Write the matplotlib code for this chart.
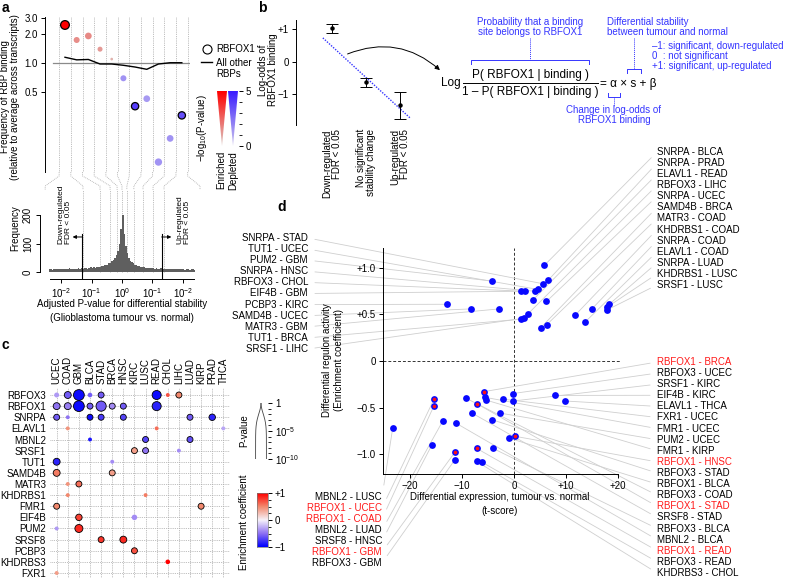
import numpy as np
import matplotlib
matplotlib.use("Agg")
import matplotlib.pyplot as plt
from matplotlib.colors import LinearSegmentedColormap, to_rgb
from matplotlib.lines import Line2D
from matplotlib.patches import Polygon, FancyArrowPatch
from matplotlib.transforms import IdentityTransform

plt.rcParams["font.family"] = ["Liberation Sans", "DejaVu Sans"]
plt.rcParams["font.size"] = 7
plt.rcParams["mathtext.fontset"] = "custom"
plt.rcParams["mathtext.rm"] = "Liberation Sans"
plt.rcParams["mathtext.it"] = "Liberation Sans:italic"
plt.rcParams["axes.linewidth"] = 0.7
for k in ("xtick", "ytick"):
    plt.rcParams[k + ".major.width"] = 0.7
    plt.rcParams[k + ".minor.width"] = 0.6
    plt.rcParams[k + ".major.size"] = 3
    plt.rcParams[k + ".minor.size"] = 2
    plt.rcParams[k + ".labelsize"] = 7
    plt.rcParams[k + ".major.pad"] = 2

# ---------------- data: panel a ----------------
a_freq = [2.52, 1.75, 1.93, 1.40, 1.10, 0.69, 0.35, 0.42, 0.09, 0.16, 0.28]
a_neglogp = [5.0, 1.5, 1.6, 1.2, 0.6, 1.5, 4.0, 1.3, 1.5, 1.5, 3.5]
a_sites = [757, 360, 449, 250, 73, 360, 533, 449, 533, 449, 533]
a_other = [1.15, 1.08, 1.09, 0.976, 0.976, 0.946, 0.907, 0.858, 0.976, 1.007, 1.007]

# histogram of signed -log10(adjusted P), bins of 0.05 from -2.4 to 2.4
hist_counts = [9, 11, 8, 10, 12, 9, 10, 11,
               10, 12, 9, 11, 10, 13, 11, 10, 12, 11,
               11, 13, 12, 14, 11, 13, 15, 12, 14, 16,
               14, 16, 15, 18, 17, 19, 21, 20, 23, 25,
               26, 30, 33, 37, 42, 50, 60, 75, 100, 150,
               200, 135, 90, 65, 50, 40, 34, 30, 26, 23,
               22, 20, 19, 17, 16, 15, 14, 15, 13, 14,
               13, 12, 14, 11, 12, 13, 11, 12, 10, 11,
               11, 10, 12, 9, 11, 10, 9, 11, 10, 9,
               10, 8, 9, 10, 8, 9, 10, 8]
a_bin_bounds = [-2.52, -1.28, -0.72, -0.39, -0.16, 0.0, 0.16, 0.39, 0.69, 1.02, 1.38, 2.56]
a_fdr = 1.3

# ---------------- data: panel b ----------------
b_logodds = [1.03, -0.63, -1.33]
b_err_lo = [0.90, -0.76, -1.75]
b_err_hi = [1.17, -0.50, -0.92]
b_alpha, b_beta = -0.96, -0.48
b_groups = ["Down-regulated\nFDR < 0.05", "No significant\nstability change",
            "Up-regulated\nFDR < 0.05"]

# ---------------- data: panel c ----------------
c_cancers = ["UCEC", "COAD", "GBM", "BLCA", "STAD", "BRCA", "HNSC", "KIRC", "LUSC",
             "READ", "CHOL", "LIHC", "LUAD", "KIRP", "PRAD", "THCA"]
c_rbps = ["RBFOX3", "RBFOX1", "SNRPA", "ELAVL1", "MBNL2", "SRSF1", "TUT1", "SAMD4B",
          "MATR3", "KHDRBS1", "FMR1", "EIF4B", "PUM2", "SRSF8", "PCBP3", "KHDRBS3", "FXR1"]
c_rbp = ["RBFOX3"] * 8 + ["RBFOX1"] * 8 + ["SNRPA"] * 7 + ["ELAVL1"] * 3 + ["MBNL2"] * 3 \
    + ["SRSF1"] * 3 + ["TUT1"] * 2 + ["SAMD4B"] * 2 + ["MATR3"] * 2 + ["KHDRBS1"] * 2 \
    + ["FMR1"] * 2 + ["EIF4B"] * 2 + ["PUM2"] * 2 + ["SRSF8"] * 2 + ["PCBP3", "KHDRBS3", "FXR1"]
c_cancer = ["UCEC", "COAD", "GBM", "BLCA", "STAD", "READ", "CHOL", "LIHC",
            "UCEC", "COAD", "GBM", "BLCA", "STAD", "BRCA", "HNSC", "READ",
            "UCEC", "COAD", "BLCA", "STAD", "HNSC", "LUAD", "PRAD",
            "COAD", "READ", "THCA",
            "BLCA", "LUSC", "LUAD",
            "KIRC", "LUSC", "LIHC",
            "UCEC", "BRCA",
            "UCEC", "BRCA",
            "COAD", "GBM",
            "COAD", "LUSC",
            "UCEC", "KIRP",
            "GBM", "KIRC",
            "UCEC", "GBM",
            "STAD", "HNSC",
            "KIRC", "CHOL", "UCEC"]
c_enr = [-0.35, -0.6, -0.95, -0.6, -0.6, -0.95, 0.7, 0.5,
         -0.5, -0.45, -0.95, -0.6, -0.6, -0.4, -0.6, -0.85,
         -0.6, -0.5, -0.95, -0.75, -0.7, -0.6, -0.85,
         0.45, 0.6, -0.3,
         -0.9, -0.7, -0.65,
         0.4, -0.5, -0.4,
         -0.85, -0.4,
         0.55, 0.4,
         0.45, 0.6,
         0.5, 0.55,
         0.5, 0.5,
         0.75, -0.4,
         -0.35, 0.85,
         0.8, 0.85,
         0.7, 1.0, 0.4]
c_neglogp = [2.1, 2.7, 8.0, 2.0, 2.4, 3.6, 1.8, 2.4,
             2.7, 2.7, 8.0, 2.4, 4.5, 2.4, 2.4, 3.6,
             2.4, 1.8, 2.4, 2.4, 2.4, 2.4, 2.55,
             1.8, 1.8, 1.8,
             1.8, 2.4, 2.4,
             2.4, 2.4, 1.8,
             2.7, 1.8,
             2.7, 2.4,
             1.8, 2.4,
             1.8, 1.8,
             2.4, 2.4,
             2.55, 2.25,
             1.8, 3.1,
             2.4, 2.7,
             2.4, 2.0, 1.8]

# ---------------- data: panel d ----------------
d_lu_names = ["SNRPA - STAD", "TUT1 - UCEC", "PUM2 - GBM", "SNRPA - HNSC", "RBFOX3 - CHOL",
              "EIF4B - GBM", "PCBP3 - KIRC", "SAMD4B - UCEC", "MATR3 - GBM", "TUT1 - BRCA",
              "SRSF1 - LIHC"]
d_lu_t = [5.63, 4.56, -4.29, 4.04, 2.12, 1.35, -12.85, -8.33, -2.88, 1.40, 1.92]
d_lu_e = [0.83, 0.77, 0.86, 0.75, 0.75, 0.75, 0.61, 0.56, 0.56, 0.45, 0.46]

d_ru_names = ["SNRPA - BLCA", "SNRPA - PRAD", "ELAVL1 - READ", "RBFOX3 - LIHC", "SNRPA - UCEC",
              "SAMD4B - BRCA", "MATR3 - COAD", "KHDRBS1 - COAD", "SNRPA - COAD",
              "ELAVL1 - COAD", "SNRPA - LUAD", "KHDRBS1 - LUSC", "SRSF1 - LUSC"]
d_ru_t = [5.87, 6.60, 3.71, 2.75, 6.25, 5.19, 6.29, 11.73, 15.0, 13.71, 18.33, 17.94, 17.94]
d_ru_e = [1.03, 0.87, 0.66, 0.51, 0.64, 0.36, 0.39, 0.49, 0.56, 0.42, 0.61, 0.58, 0.55]

d_rl_names = ["RBFOX1 - BRCA", "RBFOX3 - UCEC", "SRSF1 - KIRC", "EIF4B - KIRC", "ELAVL1 - THCA",
              "FXR1 - UCEC", "FMR1 - UCEC", "PUM2 - UCEC", "FMR1 - KIRP", "RBFOX1 - HNSC",
              "RBFOX3 - STAD", "RBFOX1 - BLCA", "RBFOX3 - COAD", "RBFOX1 - STAD",
              "SRSF8 - STAD", "RBFOX3 - BLCA", "MBNL2 - BLCA", "RBFOX1 - READ",
              "RBFOX3 - READ", "KHDRBS3 - CHOL"]
d_rl_t = [-5.83, -0.19, -0.13, 7.94, 9.81, -2.12, -5.63, -2.69, -5.38, 0.25,
          -4.29, -0.90, -9.23, -7.12, -8.08, -4.04, -11.10, -7.17, -6.10, -7.17]
d_rl_e = [-0.33, -0.35, -0.43, -0.37, -0.43, -0.41, -0.39, -0.56, -0.42, -0.81,
          -0.63, -0.83, -0.40, -0.46, -0.56, -0.94, -0.67, -0.94, -1.09, -1.08]

d_ll_names = ["MBNL2 - LUSC", "RBFOX1 - UCEC", "RBFOX1 - COAD", "MBNL2 - LUAD",
              "SRSF8 - HNSC", "RBFOX1 - GBM", "RBFOX3 - GBM"]
d_ll_t = [-23.33, -15.38, -15.38, -13.65, -15.77, -11.35, -11.35]
d_ll_e = [-0.72, -0.41, -0.48, -0.64, -0.90, -0.98, -1.06]

d_highlight = ["RBFOX1 - UCEC", "RBFOX1 - COAD", "RBFOX1 - GBM", "RBFOX1 - BRCA",
               "RBFOX1 - HNSC", "RBFOX1 - STAD", "RBFOX1 - READ"]

# ---------------- figure helpers ----------------
W, H = 800, 579
fig = plt.figure(figsize=(W / 100, H / 100), dpi=100)
fig.patch.set_facecolor("white")


def box(x0, y0, x1, y1):
    return [x0 / W, 1 - y1 / H, (x1 - x0) / W, (y1 - y0) / H]


def ftext(px, py, s, **kw):
    return fig.text(px / W, 1 - py / H, s, **kw)


def fline(xs, ys, **kw):
    fig.add_artist(Line2D([x / W for x in xs], [1 - y / H for y in ys],
                          transform=fig.transFigure, **kw))


BLUE_TXT = "#3535ff"
GRID = "#a8a8a8"

# ================= panel a =================
ftext(2, 8, "a", fontsize=10, fontweight="bold", va="center")

ax_a = fig.add_axes(box(45, 17, 190, 172))
ax_a.set_yscale("log", base=2)
ax_a.set_ylim(0.0707, 3.06)
ax_a.set_xlim(-1.71, 10.7)
for s in ("top", "right", "bottom"):
    ax_a.spines[s].set_visible(False)
ax_a.set_xticks([])
ax_a.set_yticks([0.5, 1, 2, 3])
ax_a.set_yticklabels(["0.5", "1.0", "2.0", "3.0"])
ax_a.yaxis.set_minor_locator(matplotlib.ticker.NullLocator())
ax_a.patch.set_alpha(0)

for b in np.arange(-0.5, 11, 1):
    ax_a.axvline(b, color=GRID, ls=(0, (1, 1.2)), lw=0.6, zorder=0)
ax_a.axhline(1.0, xmin=0.055, xmax=1.0, color="#8a8a8a", lw=0.9, zorder=1)
ax_a.plot(range(len(a_other)), a_other, color="black", lw=1.0, zorder=2)


def a_colour(freq, nlp):
    t = min(nlp / 5.0, 1.0)
    lo, hi = (("#dcc9c4", "#ff0000") if freq > 1 else ("#cdc6ee", "#3a1cff"))
    lo, hi = np.array(to_rgb(lo)), np.array(to_rgb(hi))
    return tuple(lo + (hi - lo) * t)


a_cols = [a_colour(f, p) for f, p in zip(a_freq, a_neglogp)]
a_edge = ["black" if p >= 3 else "none" for p in a_neglogp]
ax_a.scatter(range(len(a_freq)), a_freq, s=np.array(a_sites) * 0.052, c=a_cols,
             edgecolors=a_edge, linewidths=0.9, zorder=3)

ftext(10, 97, "Frequency of RBP binding\n(relative to average across transcripts)",
      rotation=90, ha="center", va="center", fontsize=7, linespacing=1.1)

# legend a
fig.add_artist(Line2D([207 / W], [1 - 49 / H], marker="o", ms=6.5, mfc="white", mec="black",
                      mew=0.8, transform=fig.transFigure))
ftext(216, 49, "RBFOX1", va="center", fontsize=7)
fline([201, 212], [62, 62], color="black", lw=1.0)
ftext(216, 58, "All other\nRBPs", va="top", fontsize=7, linespacing=1.1)

ax_t = fig.add_axes(box(216, 91, 239, 146))
ax_t.set_xlim(216, 239)
ax_t.set_ylim(0, 5)
grad = np.linspace(5, 0, 100)[:, None]
for (x0, x1), lo, hi in (((217, 227), "#dcc9c4", "#ff0000"), ((228, 238), "#cdc6ee", "#3a1cff")):
    cm = LinearSegmentedColormap.from_list("t", [lo, hi])
    im = ax_t.imshow(grad, cmap=cm, vmin=0, vmax=5, extent=(x0, x1, 0, 5), aspect="auto")
    tri = Polygon([(x0, 5), (x1, 5), ((x0 + x1) / 2, 0)], closed=True, transform=ax_t.transData)
    im.set_clip_path(tri)
ax_t.set_xlim(216, 239)
for s in ("top", "left", "bottom", "right"):
    ax_t.spines[s].set_visible(False)
ax_t.set_xticks([])
ax_t.yaxis.tick_right()
ax_t.set_yticks([0, 5])
ax_t.set_yticks([1, 2, 3, 4], minor=True)
ax_t.tick_params(axis="y", which="both", pad=2)
ftext(202, 128, "$-$log$_{10}$(P-value)", rotation=90, ha="center", va="center", fontsize=7)
ftext(221, 151, "Enriched", rotation=90, ha="center", va="top", fontsize=7)
ftext(233, 151, "Depleted", rotation=90, ha="center", va="top", fontsize=7)

# histogram
ax_h = fig.add_axes(box(40, 190, 200, 279))
ax_h.set_xlim(-2.69, 2.56)
ax_h.set_ylim(-24.6, 288)
ax_h.patch.set_alpha(0)
edges = np.arange(len(hist_counts)) * 0.05 - 2.4
ax_h.bar(edges, hist_counts, width=0.05, align="edge", color="#5f5f5f", lw=0, zorder=2)
ax_h.vlines(a_bin_bounds[1:-1], 0, 288, color=GRID, ls=(0, (1, 1.2)), lw=0.6, zorder=1)
for s in ("top", "right"):
    ax_h.spines[s].set_visible(False)
ax_h.spines["left"].set_bounds(0, 200)
ax_h.spines["bottom"].set_bounds(-2.35, 2.35)
ax_h.set_yticks([0, 100, 200])
ax_h.tick_params(axis="y", labelrotation=90)
for t in ax_h.get_yticklabels():
    t.set_va("center")
ax_h.set_xticks([-2, -1, 0, 1, 2])
ax_h.set_xticklabels(["10$^{-2}$", "10$^{-1}$", "10$^{0}$", "10$^{-1}$", "10$^{-2}$"])
ftext(15, 228, "Frequency", rotation=90, ha="center", va="center", fontsize=7)

for sign in (-1, 1):
    ax_h.plot([sign * a_fdr] * 2, [-24.6, 135], color="black", lw=0.8, zorder=3)
    ax_h.annotate("", xy=(sign * (a_fdr + 0.32), 123), xytext=(sign * a_fdr, 123),
                  arrowprops=dict(arrowstyle="-|>", lw=0.7, color="black", mutation_scale=5,
                                  shrinkA=0, shrinkB=0), zorder=3)
ax_h.text(-1.88, 100, "Down-regulated\nFDR < 0.05", rotation=90, ha="center", va="bottom",
          multialignment="left", fontsize=6, linespacing=1.0)
ax_h.text(2.02, 100, "Up-regulated\nFDR < 0.05", rotation=90, ha="center", va="bottom",
          multialignment="left", fontsize=6, linespacing=1.0)
ftext(122, 304, "Adjusted P-value for differential stability", ha="center", va="center", fontsize=7)
ftext(122, 318, "(Glioblastoma tumour vs. normal)", ha="center", va="center", fontsize=7)

# funnel connecting the top bins to the histogram
ylo_top = ax_a.get_ylim()[0]
yhi_h = ax_h.get_ylim()[1]
for bt, bh in zip(np.arange(-0.5, 11, 1), a_bin_bounds):
    xt, yt = ax_a.transData.transform((bt, ylo_top))
    xh, yh = ax_h.transData.transform((bh, yhi_h))
    fig.add_artist(Line2D([xt, xt, xh, xh], [yt, yt - 4, yh + 4, yh], transform=IdentityTransform(),
                          color=GRID, ls=(0, (1, 1.2)), lw=0.6))

# ================= panel b =================
ftext(258, 8, "b", fontsize=10, fontweight="bold", va="center")
ax_b = fig.add_axes(box(296, 20, 415, 125))
ax_b.set_xlim(-1.06, 2.44)
ax_b.set_ylim(-1.94, 1.29)
bx = np.arange(len(b_logodds))
yerr = [np.array(b_logodds) - np.array(b_err_lo), np.array(b_err_hi) - np.array(b_logodds)]
ax_b.errorbar(bx, b_logodds, yerr=yerr, fmt="o", ms=2.2, color="black", capsize=4.5,
              elinewidth=0.7, capthick=0.7, zorder=3)
s_line = np.array([-1.27, 1.29])
ax_b.plot(s_line + 1, b_alpha * s_line + b_beta, color=BLUE_TXT, ls=(0, (1, 1)), lw=1.0, zorder=2)
for s in ("top", "right", "bottom"):
    ax_b.spines[s].set_visible(False)
ax_b.set_yticks([-1, 0, 1])
ax_b.set_yticklabels(["\u22121", "0", "+1"])
ax_b.set_xticks(bx)
ax_b.set_xticklabels(b_groups, rotation=90, va="top", ha="center", multialignment="right",
                     linespacing=1.0)
ax_b.tick_params(axis="x", length=0, pad=3)
ftext(268, 70, "Log-odds of\nRBFOX1 binding", rotation=90, ha="center", va="center",
      fontsize=7, linespacing=1.1)

fig.add_artist(FancyArrowPatch(posA=(345 / W, 1 - 55 / H), posB=(442 / W, 1 - 72 / H),
                               transform=fig.transFigure, connectionstyle="arc3,rad=-0.32",
                               arrowstyle="-|>", mutation_scale=7, lw=0.7, color="black"))

EQ = 8.5
ftext(441, 83, "Log", ha="left", va="center", fontsize=EQ)
ftext(530, 75, "P( RBFOX1 | binding )", ha="center", va="center", fontsize=EQ)
fline([463, 598], [83, 83], color="black", lw=0.7)
ftext(530, 92, "1 \u2013 P( RBFOX1 | binding )", ha="center", va="center", fontsize=EQ)
ftext(600, 84, "= \u03b1 \u00d7 s + \u03b2", ha="left", va="center", fontsize=EQ)

# blue annotations
BT = 7
fline([471, 471, 589, 589], [64, 60, 60, 64], color=BLUE_TXT, lw=0.7)
fline([530, 530], [38, 60], color=BLUE_TXT, lw=0.7, ls=(0, (1, 1)))
ftext(530, 27, "Probability that a binding\nsite belongs to RBFOX1", ha="center", va="center",
      fontsize=BT, color=BLUE_TXT, linespacing=1.1)
fline([627, 627, 641, 641], [73, 69, 69, 73], color=BLUE_TXT, lw=0.7)
fline([634, 634], [38, 69], color=BLUE_TXT, lw=0.7, ls=(0, (1, 1)))
ftext(607, 27, "Differential stability\nbetween tumour and normal", ha="left", va="center",
      fontsize=BT, color=BLUE_TXT, linespacing=1.1)
ftext(652, 46, "\u20131: significant, down-regulated", ha="left", va="center", fontsize=BT,
      color=BLUE_TXT)
ftext(652, 56, "0  : not significant", ha="left", va="center", fontsize=BT, color=BLUE_TXT)
ftext(652, 66, "+1: significant, up-regulated", ha="left", va="center", fontsize=BT,
      color=BLUE_TXT)
fline([608, 608, 620, 620], [93, 97, 97, 93], color=BLUE_TXT, lw=0.7)
fline([614, 614], [97, 106], color=BLUE_TXT, lw=0.7, ls=(0, (1, 1)))
ftext(614, 115, "Change in log-odds of\nRBFOX1 binding", ha="center", va="center",
      fontsize=BT, color=BLUE_TXT, linespacing=1.1)

# ================= panel c =================
ftext(2, 345, "c", fontsize=10, fontweight="bold", va="center")
ax_c = fig.add_axes(box(50, 388, 230, 578))
ax_c.set_xlim(-0.6, 15.6)
ax_c.set_ylim(16.45, -0.63)
for s in ax_c.spines.values():
    s.set_visible(False)
for j in range(len(c_rbps)):
    ax_c.axhline(j, color=GRID, ls=(0, (1, 1.2)), lw=0.6, zorder=0)
for i in range(len(c_cancers)):
    ax_c.axvline(i, color=GRID, ls=(0, (1, 1.2)), lw=0.6, zorder=0)

enr_cmap = LinearSegmentedColormap.from_list(
    "enr", ["#0000ff", "#8f72f2", "#f6f2fa", "#f28a6e", "#ff0000"])


def p_diam(nlp):
    return 10.8 * (1 - np.exp(-0.14 * np.asarray(nlp, dtype=float) ** 2))


cx = [c_cancers.index(c) for c in c_cancer]
cy = [c_rbps.index(r) for r in c_rbp]
c_edge = ["black" if p >= 2.3 else "none" for p in c_neglogp]
ax_c.scatter(cx, cy, s=(p_diam(c_neglogp) * 0.72) ** 2, c=c_enr, cmap=enr_cmap, vmin=-1, vmax=1,
             edgecolors=c_edge, linewidths=0.6, zorder=3)
ax_c.set_xticks(range(len(c_cancers)))
ax_c.set_xticklabels(c_cancers, rotation=90)
ax_c.xaxis.tick_top()
ax_c.set_yticks(range(len(c_rbps)))
ax_c.set_yticklabels(c_rbps)
ax_c.tick_params(length=0, pad=3)

# P-value legend
ax_p = fig.add_axes(box(254, 403, 268, 459))
yy = np.linspace(0, 10, 200)
hw = p_diam(yy) / 2
ax_p.plot(hw, yy, color="#444444", lw=0.6)
ax_p.plot(-hw, yy, color="#444444", lw=0.6)
ax_p.plot([-hw[-1], hw[-1]], [10, 10], color="#444444", lw=0.6)
ax_p.set_xlim(-7, 7)
ax_p.set_ylim(10, 0)
for s in ax_p.spines.values():
    s.set_visible(False)
ax_p.set_xticks([])
ax_p.yaxis.tick_right()
ax_p.set_yticks([0, 5, 10])
ax_p.set_yticklabels(["1", "10$^{-5}$", "10$^{-10}$"])
ax_p.set_yticks(range(11), minor=True)
ax_p.patch.set_alpha(0)
ftext(244, 431, "P-value", rotation=90, ha="center", va="center", fontsize=7)

ax_cb = fig.add_axes(box(257, 493, 268, 547))
ax_cb.imshow(np.linspace(1, -1, 100)[:, None], cmap=enr_cmap, vmin=-1, vmax=1, aspect="auto",
             extent=(0, 1, -1, 1))
ax_cb.set_xticks([])
ax_cb.yaxis.tick_right()
ax_cb.set_yticks([-1, 0, 1])
ax_cb.set_yticklabels(["\u22121", "0", "+1"])
ax_cb.set_yticks(np.arange(-1, 1.01, 0.25), minor=True)
for s in ax_cb.spines.values():
    s.set_linewidth(0.5)
    s.set_color("#777777")
ftext(244, 522, "Enrichment coefficient", rotation=90, ha="center", va="center", fontsize=7)

# ================= panel d =================
ftext(277, 207, "d", fontsize=10, fontweight="bold", va="center")
ax_d = fig.add_axes(box(383, 248, 620, 474))
ax_d.set_xlim(-25.2, 20.4)
ax_d.set_ylim(-1.215, 1.215)
ax_d.patch.set_alpha(0)
for s in ("top", "right"):
    ax_d.spines[s].set_visible(False)
ax_d.spines["bottom"].set_bounds(-25.2, 20)
ax_d.axhline(0, color="#333333", ls=(0, (3, 2)), lw=0.7, zorder=1)
ax_d.axvline(0, color="#333333", ls=(0, (3, 2)), lw=0.7, zorder=1)
ax_d.set_xticks([-20, -10, 0, 10, 20])
ax_d.set_xticklabels(["\u221220", "\u221210", "0", "+10", "+20"])
ax_d.set_yticks([-1, -0.5, 0, 0.5, 1])
ax_d.set_yticklabels(["\u22121.0", "\u22120.5", "0", "+0.5", "+1.0"])
ftext(327, 360, "Differential regulon activity", rotation=90, ha="center", va="center", fontsize=7)
ftext(339, 360, "(Enrichment coefficient)", rotation=90, ha="center", va="center", fontsize=7)
ftext(500, 497, "Differential expression, tumour vs. normal", ha="center", va="center", fontsize=7)
ftext(500, 511, "(t-score)", ha="center", va="center", fontsize=7)

groups = [
    (d_lu_names, d_lu_t, d_lu_e, 308, 238, 11.1, "right"),
    (d_ru_names, d_ru_t, d_ru_e, 657, 152, 11.08, "left"),
    (d_rl_names, d_rl_t, d_rl_e, 657, 362, 11.1, "left"),
    (d_ll_names, d_ll_t, d_ll_e, 382, 497, 11.0, "right"),
]
all_t, all_e, hi_t, hi_e = [], [], [], []
for names, ts, es, lx, ly0, dy, ha in groups:
    for i, (nm, t, e) in enumerate(zip(names, ts, es)):
        red = nm in d_highlight
        ax_d.annotate(nm, xy=(t, e), xycoords="data",
                      xytext=(lx, H - (ly0 + dy * i)), textcoords="figure pixels",
                      ha=ha, va="center", fontsize=7,
                      color="#ff1a1a" if red else "black",
                      arrowprops=dict(arrowstyle="-", color="#cfcfcf", lw=0.6, shrinkA=3,
                                      shrinkB=0, relpos=(1, 0.5) if ha == "right" else (0, 0.5)),
                      annotation_clip=False, zorder=1)
        all_t.append(t)
        all_e.append(e)
        if red:
            hi_t.append(t)
            hi_e.append(e)
ax_d.scatter(all_t, all_e, s=24, color="#0808ff", lw=0, zorder=4, clip_on=False)
ax_d.scatter(hi_t, hi_e, s=7, color="#ff1010", lw=0, zorder=5, clip_on=False)

fig.savefig("out.png", dpi=100, facecolor="white")
